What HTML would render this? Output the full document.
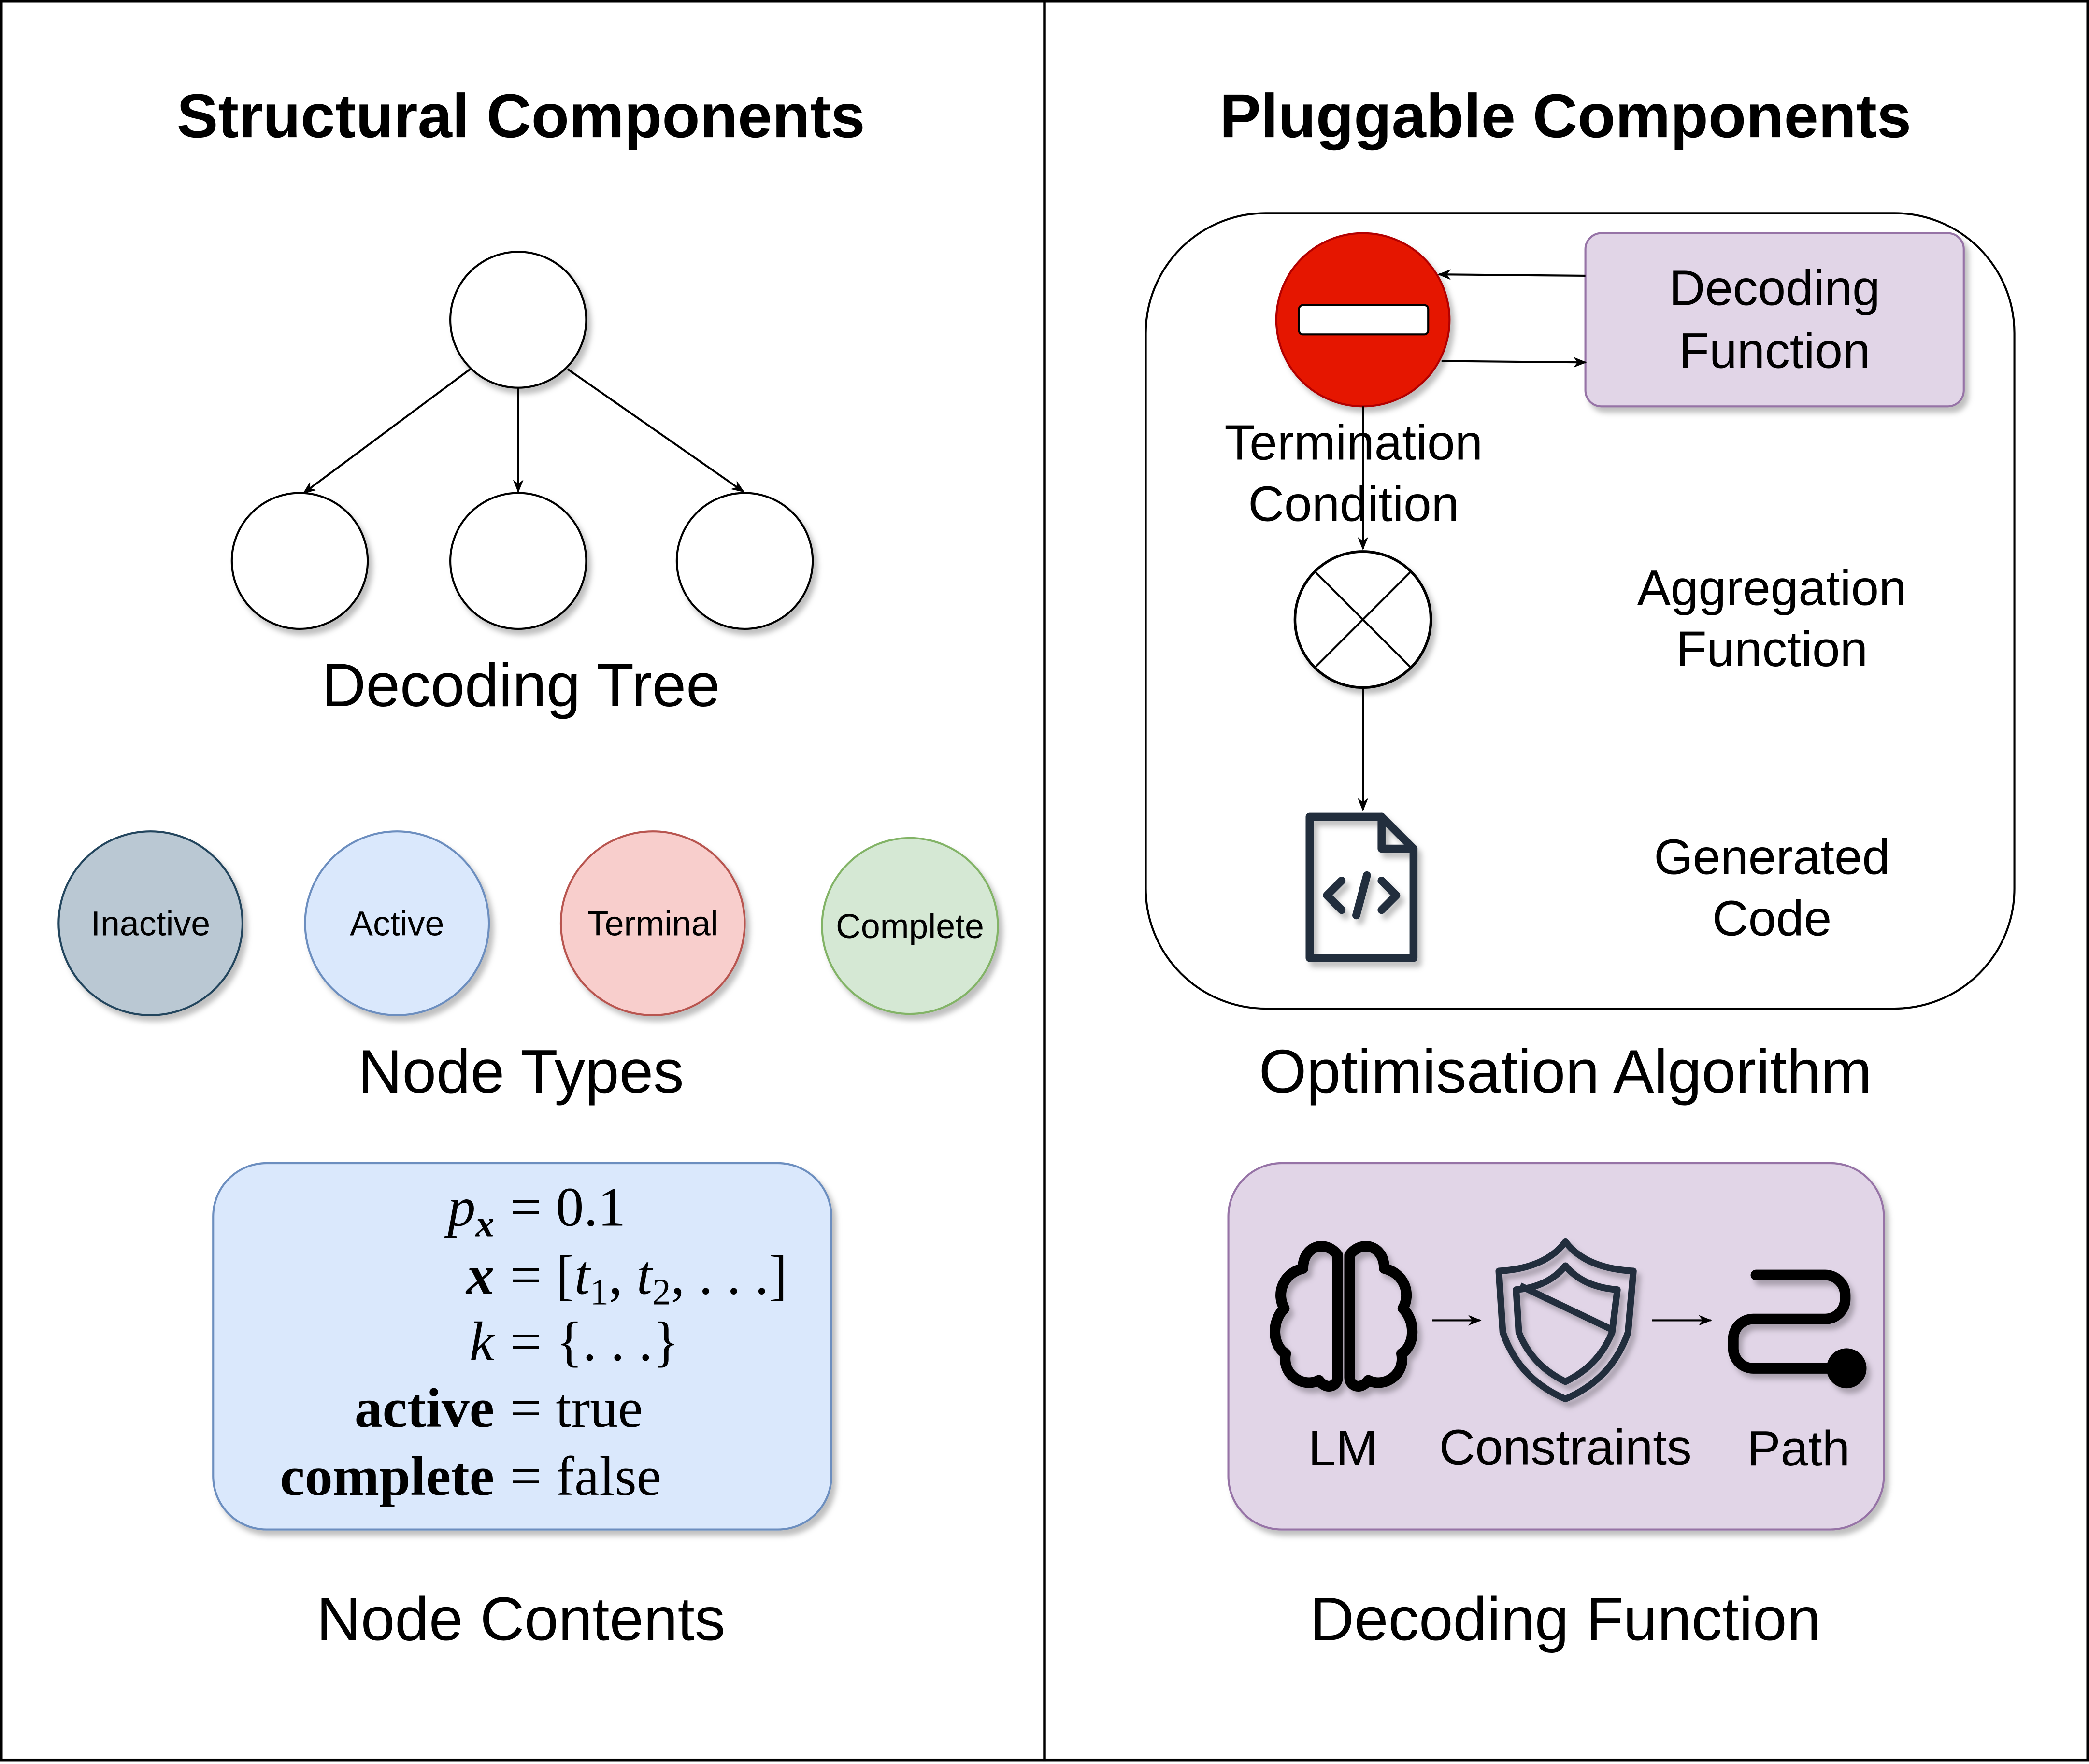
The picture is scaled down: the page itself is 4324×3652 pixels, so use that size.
<!DOCTYPE html>
<html><head><meta charset="utf-8"><style>
html,body{margin:0;padding:0;background:#fff;}
svg{display:block;}
text{font-family:"Liberation Sans",sans-serif;}
.m text,.m tspan{font-family:"Liberation Serif",serif;font-size:42px;}
.m .sub{font-size:28px;}
</style></head><body>
<svg width="4324" height="3652" viewBox="0 0 1568 1324" preserveAspectRatio="none" xmlns="http://www.w3.org/2000/svg">
<defs>
<marker id="a" markerWidth="10" markerHeight="10" refX="9" refY="5" orient="auto" markerUnits="userSpaceOnUse"><path d="M0,1 L10,5 L0,9 L3,5 Z" fill="#000"/></marker>
<filter id="s" x="-20%" y="-20%" width="150%" height="150%"><feDropShadow dx="3" dy="4" stdDeviation="2" flood-color="#000" flood-opacity="0.25"/></filter>
</defs>
<rect x="1" y="1" width="1566" height="1320" fill="#fff" stroke="#000" stroke-width="2"/>
<line x1="784" y1="0" x2="784" y2="1322" stroke="#000" stroke-width="2"/>

<text x="391" y="103" font-size="46.5" font-weight="bold" text-anchor="middle">Structural Components</text>
<text x="1175" y="103" font-size="46.5" font-weight="bold" text-anchor="middle">Pluggable Components</text>

<g fill="#fff" stroke="#000" stroke-width="1.5" filter="url(#s)">
<circle cx="389" cy="240" r="51"/>
<circle cx="225" cy="421" r="51"/>
<circle cx="389" cy="421" r="51"/>
<circle cx="559" cy="421" r="51"/>
</g>
<g stroke="#000" stroke-width="1.5" marker-end="url(#a)">
<line x1="353" y1="277" x2="228" y2="370"/>
<line x1="389" y1="291" x2="389" y2="369"/>
<line x1="426" y1="277" x2="558" y2="369"/>
</g>
<text x="391" y="530" font-size="46" text-anchor="middle">Decoding Tree</text>

<g stroke-width="1.5" filter="url(#s)">
<circle cx="113" cy="693" r="69" fill="#bac8d3" stroke="#23445d"/>
<circle cx="298" cy="693" r="69" fill="#dae8fc" stroke="#6c8ebf"/>
<circle cx="490" cy="693" r="69" fill="#f8cecc" stroke="#b85450"/>
<circle cx="683" cy="695" r="66" fill="#d5e8d4" stroke="#82b366"/>
</g>
<g font-size="26" text-anchor="middle">
<text x="113" y="702">Inactive</text>
<text x="298" y="702">Active</text>
<text x="490" y="702">Terminal</text>
<text x="683" y="704">Complete</text>
</g>
<text x="391" y="820" font-size="46" text-anchor="middle">Node Types</text>

<rect x="160" y="873" width="464" height="275" rx="40" fill="#dae8fc" stroke="#6c8ebf" stroke-width="1.5" filter="url(#s)"/>
<g class="m">
<text x="371" y="920" text-anchor="end" font-style="italic">p<tspan class="sub" dy="8" font-weight="bold">x</tspan></text>
<text x="383" y="920">= 0.1</text>
<text x="371" y="971" text-anchor="end" font-style="italic" font-weight="bold">x</text>
<text x="383" y="971">= [<tspan font-style="italic">t</tspan><tspan class="sub" dy="8">1</tspan><tspan dy="-8">, </tspan><tspan font-style="italic">t</tspan><tspan class="sub" dy="8">2</tspan><tspan dy="-8">, . . .]</tspan></text>
<text x="371" y="1021" text-anchor="end" font-style="italic">k</text>
<text x="383" y="1021">= {. . .}</text>
<text x="371" y="1071" text-anchor="end" font-weight="bold">active</text>
<text x="383" y="1071">= true</text>
<text x="371" y="1122" text-anchor="end" font-weight="bold">complete</text>
<text x="383" y="1122">= false</text>
</g>
<text x="391" y="1231" font-size="46" text-anchor="middle">Node Contents</text>

<rect x="860" y="160" width="652" height="597" rx="90" fill="#fff" stroke="#000" stroke-width="1.5"/>
<circle cx="1023" cy="240" r="65" fill="#e51400" stroke="#b20000" stroke-width="1.5" filter="url(#s)"/>
<rect x="975" y="229" width="97" height="22" rx="3" fill="#fff" stroke="#000" stroke-width="1.5"/>
<rect x="1190" y="175" width="284" height="130" rx="12" fill="#e1d5e7" stroke="#9673a6" stroke-width="1.5" filter="url(#s)"/>
<text x="1332" y="229" font-size="37.5" text-anchor="middle">Decoding</text>
<text x="1332" y="276" font-size="37.5" text-anchor="middle">Function</text>
<g stroke="#000" stroke-width="1.5" marker-end="url(#a)">
<line x1="1190" y1="207" x2="1080" y2="206"/>
<line x1="1082" y1="271" x2="1190" y2="272"/>
<line x1="1023" y1="305" x2="1023" y2="412"/>
<line x1="1023" y1="516" x2="1023" y2="608"/>
</g>
<text x="1016" y="345" font-size="37.5" text-anchor="middle">Termination</text>
<text x="1016" y="391" font-size="37.5" text-anchor="middle">Condition</text>
<circle cx="1023" cy="465" r="51" fill="#fff" stroke="#000" stroke-width="2" filter="url(#s)"/>
<line x1="987" y1="429" x2="1059" y2="501" stroke="#000" stroke-width="1.5"/>
<line x1="1059" y1="429" x2="987" y2="501" stroke="#000" stroke-width="1.5"/>
<text x="1330" y="454" font-size="37.5" text-anchor="middle">Aggregation</text>
<text x="1330" y="500" font-size="37.5" text-anchor="middle">Function</text>
<g fill="none" stroke="#232f3e" stroke-width="6" stroke-linejoin="round" stroke-linecap="round" filter="url(#s)">
<path d="M983,613 L1037,613 L1061,637 L1061,719 L983,719 Z"/>
<path d="M1037,613 L1037,637 L1061,637"/>
<path d="M1007,661 L996,672 L1007,683"/>
<path d="M1037,661 L1048,672 L1037,683"/>
<path d="M1026,657 L1018,687"/>
</g>
<text x="1330" y="656" font-size="37.5" text-anchor="middle">Generated</text>
<text x="1330" y="702" font-size="37.5" text-anchor="middle">Code</text>
<text x="1175" y="820" font-size="46" text-anchor="middle">Optimisation Algorithm</text>

<rect x="922" y="873" width="492" height="275" rx="40" fill="#e1d5e7" stroke="#9673a6" stroke-width="1.5" filter="url(#s)"/>
<g fill="none" stroke="#000" stroke-width="8" stroke-linejoin="round" filter="url(#s)">
<path d="M1004,942 C995,930 978,935 978,952 C962,956 958,972 964,982 C954,992 955,1010 965,1016 C962,1032 978,1042 990,1036 C996,1044 1004,1040 1004,1034 Z"/>
<path d="M1013,942 C1022,930 1039,935 1039,952 C1055,956 1059,972 1053,982 C1063,992 1062,1010 1052,1016 C1055,1032 1039,1042 1027,1036 C1021,1044 1013,1040 1013,1034 Z"/>
</g>
<g fill="none" stroke="#232f3e" stroke-width="5" stroke-linejoin="round" filter="url(#s)">
<path d="M1175,932 Q1160,952 1125,954 L1128,1000 Q1140,1035 1175,1050 Q1210,1035 1222,1000 L1226,954 Q1190,952 1175,932 Z"/>
<path d="M1175,950 Q1162,966 1138,968 L1140,1000 Q1150,1025 1175,1037 Q1200,1025 1210,1000 L1214,968 Q1188,966 1175,950 Z"/>
<line x1="1141" y1="965" x2="1210" y2="998"/>
</g>
<g filter="url(#s)">
<path d="M1318,957 L1370,957 A15,15 0 0 1 1385,972 L1385,975 A15,15 0 0 1 1370,990 L1316,990 A15,15 0 0 0 1301,1005 L1301,1012 A15,15 0 0 0 1316,1027 L1386,1027" fill="none" stroke="#000" stroke-width="8" stroke-linecap="round"/>
<circle cx="1386" cy="1027" r="15" fill="#000"/>
</g>
<g stroke="#000" stroke-width="1.5" marker-end="url(#a)">
<line x1="1075" y1="991" x2="1111" y2="991"/>
<line x1="1240" y1="991" x2="1284" y2="991"/>
</g>
<text x="1008" y="1100" font-size="37.5" text-anchor="middle">LM</text>
<text x="1175" y="1099" font-size="37.5" text-anchor="middle">Constraints</text>
<text x="1350" y="1100" font-size="37.5" text-anchor="middle">Path</text>
<text x="1175" y="1231" font-size="46" text-anchor="middle">Decoding Function</text>
</svg>
</body></html>
